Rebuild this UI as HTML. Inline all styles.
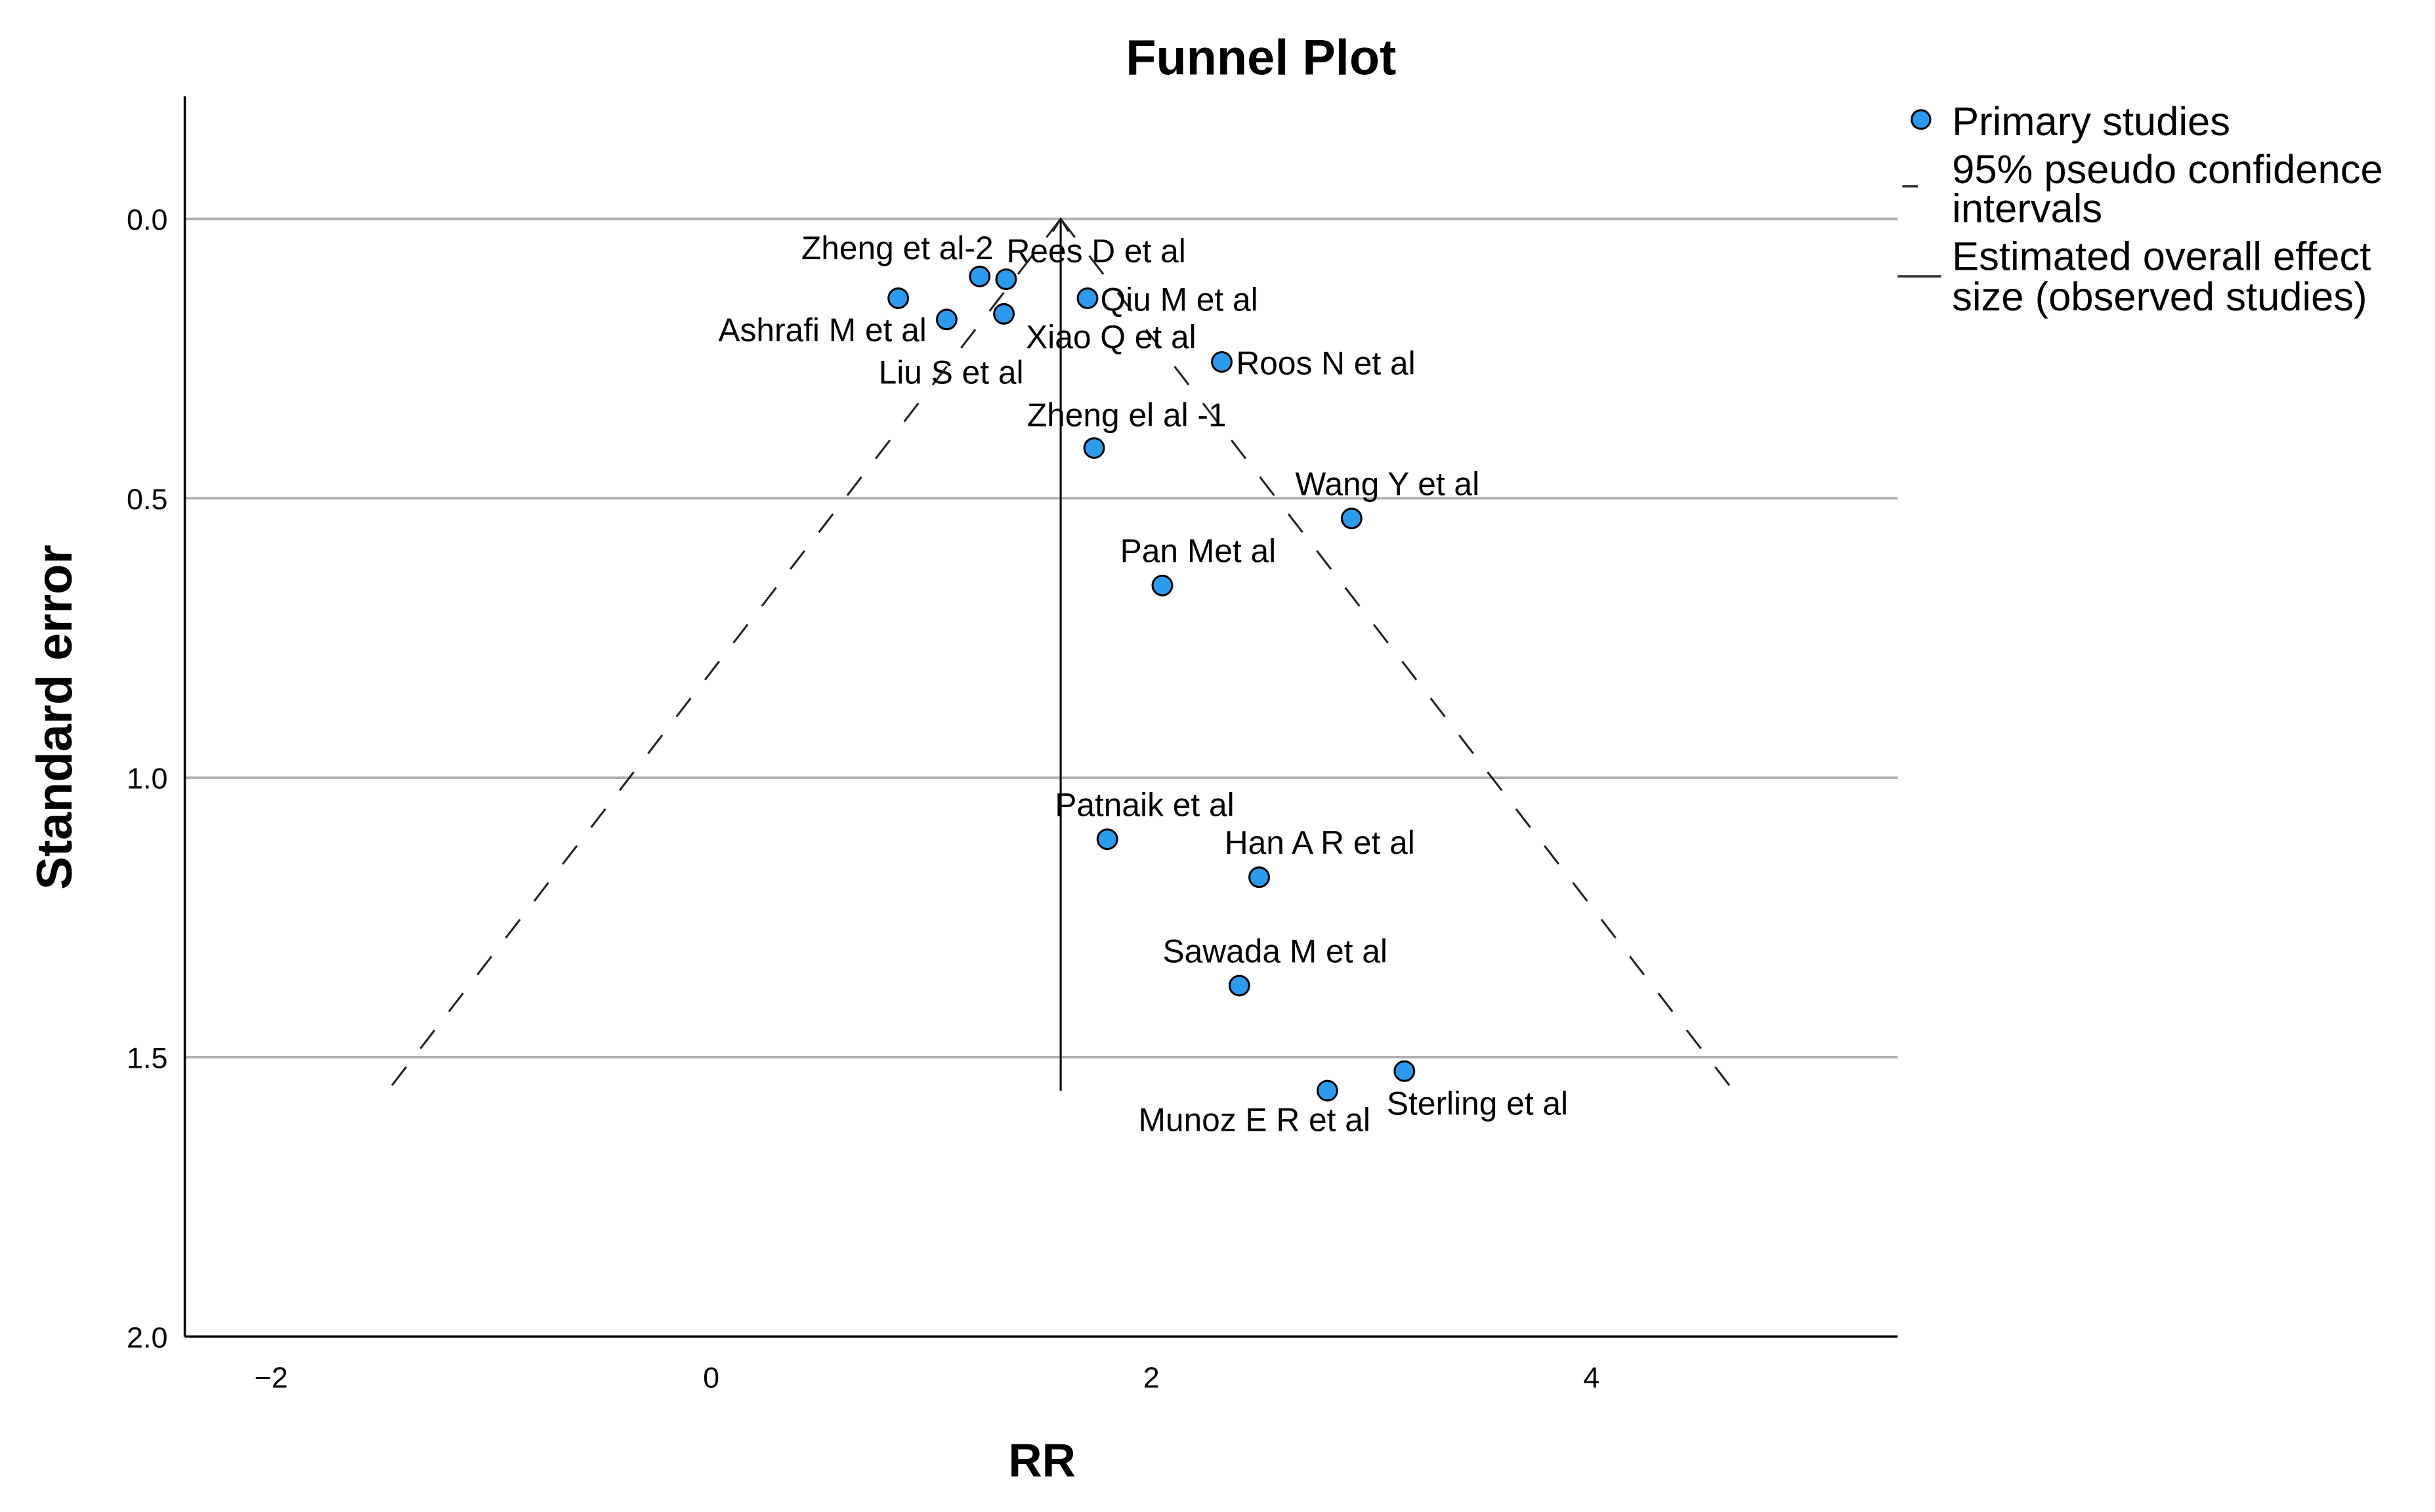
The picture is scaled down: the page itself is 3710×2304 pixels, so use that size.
<!DOCTYPE html>
<html><head><meta charset="utf-8"><style>
html,body{margin:0;padding:0;background:#fff;}
svg{display:block;font-family:"Liberation Sans",sans-serif;}
</style></head><body>
<svg id="chart" width="3710" height="2304" viewBox="0 0 1568 974" preserveAspectRatio="none" xmlns="http://www.w3.org/2000/svg">
<rect width="1568" height="974" fill="#fff"/>
<text x="812" y="48" text-anchor="middle" font-size="32" font-weight="bold">Funnel Plot</text>
<g id="grid"></g>
<g id="axes"></g>
<g id="funnel"></g>
<g id="points"></g>
<text x="671" y="951" text-anchor="middle" font-size="30" font-weight="bold">RR</text>
<text transform="translate(46,462) rotate(-90)" text-anchor="middle" font-size="32" font-weight="bold">Standard error</text>
<g font-size="26">
  <circle cx="1237" cy="77" r="6" fill="#2a9bef" stroke="#000" stroke-width="1.3"/>
  <text x="1257" y="87">Primary studies</text>
  <line x1="1225" y1="120" x2="1235" y2="120" stroke="#333" stroke-width="1.5"/>
  <text x="1257" y="118">95% pseudo confidence</text>
  <text x="1257" y="143">intervals</text>
  <line x1="1222" y1="178" x2="1250" y2="178" stroke="#333" stroke-width="1.5"/>
  <text x="1257" y="174">Estimated overall effect</text>
  <text x="1257" y="200">size (observed studies)</text>
</g>
</svg>
<script>
const studyNames = ["Zheng et al-2","Rees D et al","Liu S et al","Ashrafi M et al","Xiao Q et al","Qiu M et al","Roos N et al","Zheng el al -1","Wang Y et al","Pan Met al","Patnaik et al","Han A R et al","Sawada M et al","Munoz E R et al","Sterling et al"];
const rrValues = [1.22,1.34,0.85,1.07,1.33,1.71,2.32,1.74,2.91,2.05,1.80,2.49,2.40,2.80,3.15];
const seValues = [0.103,0.108,0.142,0.18,0.17,0.142,0.256,0.41,0.536,0.656,1.11,1.178,1.372,1.56,1.525];
const labelDx = [-53,58,34,-80,69,59,67,21,23,23,24,39,23,-47,47];
const labelDy = [-18,-18,48,7,15,1,1,-21,-22,-22,-22,-22,-22,19,21];
const xTicks = [-2,0,2,4];
const yTicks = [0.0,0.5,1.0,1.5,2.0];
const pooledRR = 1.588;
const maxSE = 1.56;

const NS="http://www.w3.org/2000/svg";
const X0=119,X1=1222,Y0=62,Y1=861;
const xs = v => 458 + v*141.7;
const ys = v => 141 + v*360;
function mk(tag, attrs, parent){const e=document.createElementNS(NS,tag);for(const k in attrs)e.setAttribute(k,attrs[k]);parent.appendChild(e);return e;}
const grid=document.getElementById('grid'), axes=document.getElementById('axes'), funnel=document.getElementById('funnel'), pts=document.getElementById('points');

yTicks.forEach(t=>{
  const y=ys(t);
  if(t<2){const l=mk('line',{x1:X0,x2:X1,y1:y,y2:y,stroke:'#b0b0b0','stroke-width':1.6},grid);
  
  }
  const tx=mk('text',{x:X0-11,y:y+7,'text-anchor':'end','font-size':19},axes);tx.textContent=t.toFixed(1);
  
  
});
xTicks.forEach(t=>{
  const tx=mk('text',{x:xs(t),y:894,'text-anchor':'middle','font-size':19},axes);tx.textContent=t<0?'\u2212'+(-t):String(t);
  
  
});
const ya=mk('line',{x1:X0,x2:X0,y1:Y0,y2:Y1,stroke:'#000','stroke-width':1.5},axes);


const xa=mk('line',{x1:X0,x2:X1,y1:Y1,y2:Y1,stroke:'#000','stroke-width':1.5},axes);



const cl=mk('line',{x1:xs(pooledRR),x2:xs(pooledRR),y1:ys(0),y2:ys(maxSE),stroke:'#000','stroke-width':1.3},funnel);


const ah=mk('path',{d:`M${xs(pooledRR)-5},${ys(0)+8} L${xs(pooledRR)},${ys(0)} L${xs(pooledRR)+5},${ys(0)+8}`,fill:'none',stroke:'#000','stroke-width':1.2},funnel);


[-1,1].forEach(s=>{
  const l=mk('line',{x1:xs(pooledRR),y1:ys(0),x2:xs(pooledRR+s*1.96*maxSE),y2:ys(maxSE),stroke:'#222','stroke-width':1.3,'stroke-dasharray':'15 15'},funnel);
  
  
});

studyNames.forEach((n,i)=>{
  const cx=xs(rrValues[i]), cy=ys(seValues[i]);
  const c=mk('circle',{cx:cx,cy:cy,r:6.3,fill:'#2a9bef',stroke:'#000','stroke-width':1.3},pts);
  
  
  const t=mk('text',{x:cx+labelDx[i],y:cy+labelDy[i]+7,'text-anchor':'middle','font-size':21},pts);
  t.textContent=n;
  
  
});
</script>
</body></html>
